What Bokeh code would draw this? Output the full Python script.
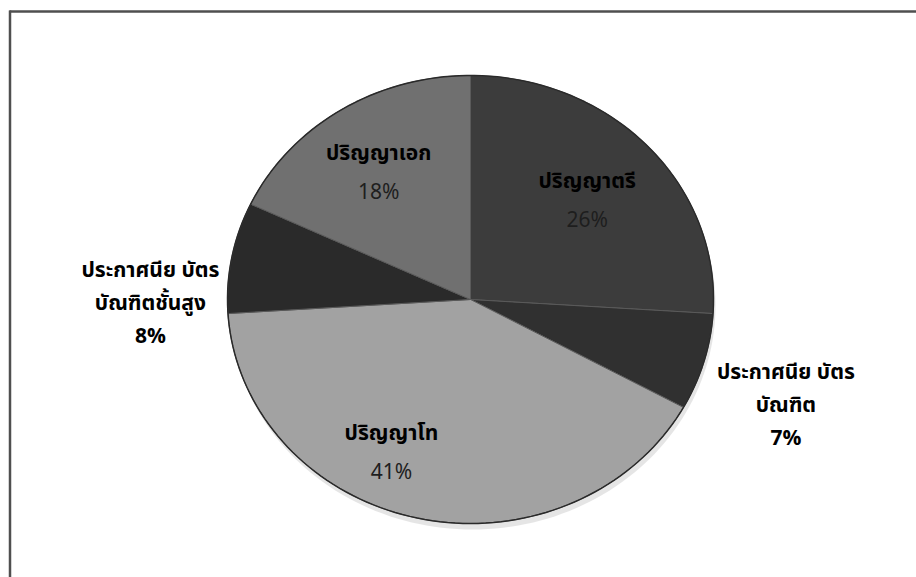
import numpy as np
from bokeh.plotting import figure
from bokeh.models import Range1d, ColumnDataSource
from bokeh.embed import file_html
from bokeh.resources import INLINE
from bokeh.core.properties import value

# ---- data ----
categories = ["ปริญญาตรี", "ประกาศนีย บัตร\nบัณฑิต", "ปริญญาโท",
              "ประกาศนีย บัตร\nบัณฑิตชั้นสูง", "ปริญญาเอก"]
percents = [26, 7, 41, 8, 18]
pct_labels = ["26%", "7%", "41%", "8%", "18%"]

# ---- style ----
colors = ["#3c3c3c", "#303030", "#a2a2a2", "#2a2a2a", "#707070"]
inside = [True, False, True, False, True]
label_r = [0.67, 1.30, 0.70, 1.32, 0.69]
label_adj = [(-2, 4), (12, 25), (-42, 0), (-5, 59), (-2, 4)]

W, H = 916, 577
CX, CY, RX, RY = 470, 299, 243, 224

p = figure(width=W, height=H, output_backend="svg", toolbar_location=None,
           x_range=Range1d(0, W), y_range=Range1d(H, 0),
           min_border=0, x_axis_location=None, y_axis_location=None)
p.grid.visible = False
p.outline_line_color = None
p.background_fill_color = "white"
p.border_fill_color = "white"

# frame lines (top and left only visible)
p.segment(x0=[9, 9.5], y0=[11, 10], x1=[916, 9.5], y1=[11, 577],
          line_color="#4f4f4f", line_width=2.5)

# soft shadow under the pie
t = np.linspace(0, 2 * np.pi, 200)
p.patch(CX + 2 + RX * np.sin(t), CY + 6 + RY * np.cos(t),
        fill_color="#dedede", line_color=None, fill_alpha=0.8)

# slices
total = float(sum(percents))
xs, ys, mids = [], [], []
start = 0.0
for v in percents:
    span = 360.0 * v / total
    th = np.radians(np.linspace(start, start + span, 80))
    xs.append(list(np.concatenate([[CX], CX + RX * np.sin(th), [CX]])))
    ys.append(list(np.concatenate([[CY], CY - RY * np.cos(th), [CY]])))
    mids.append(start + span / 2)
    start += span

p.patches(xs=xs, ys=ys, fill_color=colors, line_color="#5a5a5a", line_width=1)
# outer outline
p.patch(CX + RX * np.sin(t), CY + RY * np.cos(t), fill_color=None,
        line_color="#2a2a2a", line_width=1.5)

# labels
tx, ty, tt, tstyle, tcol = [], [], [], [], []
for i, (name, pct) in enumerate(zip(categories, pct_labels)):
    m = np.radians(mids[i])
    cx = CX + RX * label_r[i] * np.sin(m) + label_adj[i][0]
    cy = CY - RY * label_r[i] * np.cos(m) + label_adj[i][1]
    lines = name.split("\n") + [pct]
    s = 39 if inside[i] else 33
    n = len(lines)
    for j, ln in enumerate(lines):
        tx.append(cx)
        ty.append(cy + (j - (n - 1) / 2) * s)
        tt.append(ln)
        is_pct = (j == n - 1)
        tstyle.append("normal" if (is_pct and inside[i]) else "bold")
        tcol.append("#1e1e1e" if (is_pct and inside[i]) else "#000000")

src = ColumnDataSource(dict(x=tx, y=ty, text=tt, style=tstyle, color=tcol))
p.text(x="x", y="y", text="text", source=src, text_align="center",
       text_baseline="middle", text_font=value("Noto Sans Thai, Noto Sans"),
       text_font_size="21px", text_font_style="style", text_color="color")

open("out.html", "w").write(file_html(p, INLINE))
